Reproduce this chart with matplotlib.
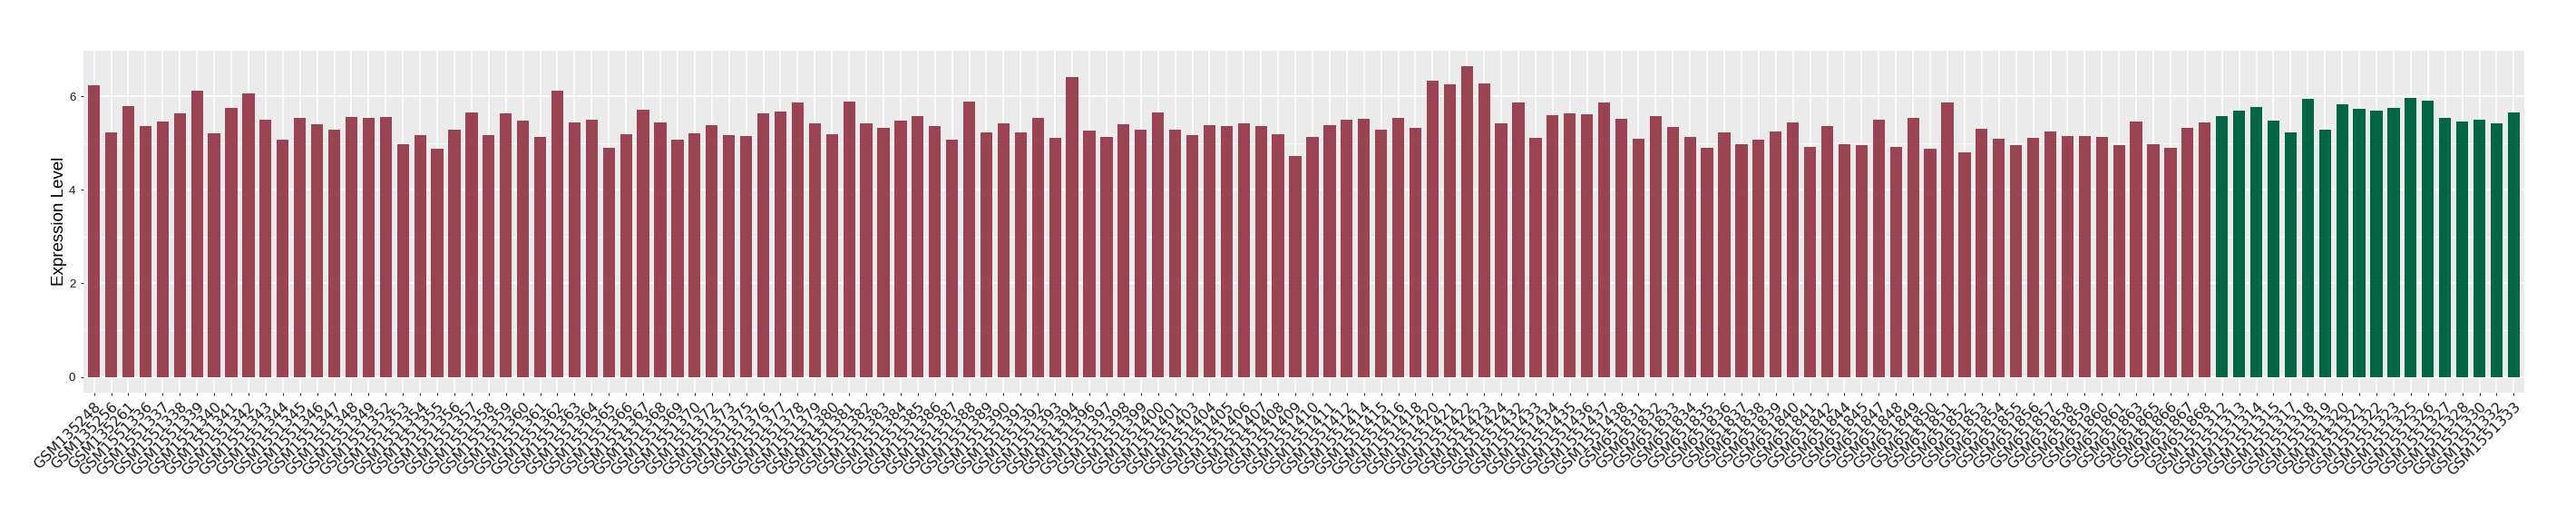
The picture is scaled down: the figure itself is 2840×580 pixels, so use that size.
import matplotlib
matplotlib.use('Agg')
import matplotlib.pyplot as plt
import numpy as np

samples = [
    "GSM135248", "GSM135256", "GSM135261", "GSM1551336", "GSM1551337", "GSM1551338",
    "GSM1551339", "GSM1551340", "GSM1551341", "GSM1551342", "GSM1551343", "GSM1551344",
    "GSM1551345", "GSM1551346", "GSM1551347", "GSM1551348", "GSM1551349", "GSM1551352",
    "GSM1551353", "GSM1551354", "GSM1551355", "GSM1551356", "GSM1551357", "GSM1551358",
    "GSM1551359", "GSM1551360", "GSM1551361", "GSM1551362", "GSM1551363", "GSM1551364",
    "GSM1551365", "GSM1551366", "GSM1551367", "GSM1551368", "GSM1551369", "GSM1551370",
    "GSM1551372", "GSM1551373", "GSM1551375", "GSM1551376", "GSM1551377", "GSM1551378",
    "GSM1551379", "GSM1551380", "GSM1551381", "GSM1551382", "GSM1551383", "GSM1551384",
    "GSM1551385", "GSM1551386", "GSM1551387", "GSM1551388", "GSM1551389", "GSM1551390",
    "GSM1551391", "GSM1551392", "GSM1551393", "GSM1551394", "GSM1551396", "GSM1551397",
    "GSM1551398", "GSM1551399", "GSM1551400", "GSM1551401", "GSM1551403", "GSM1551404",
    "GSM1551405", "GSM1551406", "GSM1551407", "GSM1551408", "GSM1551409", "GSM1551410",
    "GSM1551411", "GSM1551412", "GSM1551414", "GSM1551415", "GSM1551416", "GSM1551418",
    "GSM1551420", "GSM1551421", "GSM1551422", "GSM1551423", "GSM1551424", "GSM1551432",
    "GSM1551433", "GSM1551434", "GSM1551435", "GSM1551436", "GSM1551437", "GSM1551438",
    "GSM651831", "GSM651832", "GSM651833", "GSM651834", "GSM651835", "GSM651836",
    "GSM651837", "GSM651838", "GSM651839", "GSM651840", "GSM651841", "GSM651842",
    "GSM651844", "GSM651845", "GSM651847", "GSM651848", "GSM651849", "GSM651850",
    "GSM651851", "GSM651852", "GSM651853", "GSM651854", "GSM651855", "GSM651856",
    "GSM651857", "GSM651858", "GSM651859", "GSM651860", "GSM651861", "GSM651863",
    "GSM651865", "GSM651866", "GSM651867", "GSM651868",
    "GSM1551312", "GSM1551313", "GSM1551314", "GSM1551315", "GSM1551317", "GSM1551318",
    "GSM1551319", "GSM1551320", "GSM1551321", "GSM1551322", "GSM1551323", "GSM1551325",
    "GSM1551326", "GSM1551327", "GSM1551328", "GSM1551330", "GSM1551332", "GSM1551333",
]

expression = [
    6.23, 5.22, 5.79, 5.36, 5.46, 5.63, 6.12, 5.20, 5.75, 6.06, 5.50, 5.07,
    5.54, 5.40, 5.28, 5.56, 5.54, 5.56, 4.98, 5.17, 4.88, 5.28, 5.65, 5.17,
    5.63, 5.48, 5.13, 6.12, 5.44, 5.50, 4.90, 5.18, 5.71, 5.44, 5.07, 5.20,
    5.38, 5.17, 5.15, 5.63, 5.67, 5.87, 5.42, 5.18, 5.89, 5.42, 5.32, 5.48,
    5.58, 5.36, 5.07, 5.89, 5.22, 5.42, 5.22, 5.54, 5.11, 6.41, 5.26, 5.13,
    5.40, 5.28, 5.65, 5.28, 5.17, 5.38, 5.36, 5.42, 5.36, 5.18, 4.72, 5.13,
    5.38, 5.50, 5.52, 5.28, 5.54, 5.32, 6.33, 6.25, 6.64, 6.27, 5.42, 5.87,
    5.11, 5.59, 5.63, 5.61, 5.87, 5.52, 5.09, 5.58, 5.34, 5.13, 4.90, 5.22,
    4.98, 5.07, 5.24, 5.44, 4.92, 5.36, 4.98, 4.96, 5.50, 4.92, 5.54, 4.88,
    5.87, 4.80, 5.30, 5.09, 4.96, 5.11, 5.24, 5.15, 5.15, 5.13, 4.96, 5.46,
    4.98, 4.90, 5.32, 5.44,
    5.58, 5.69, 5.77, 5.48, 5.22, 5.95, 5.28, 5.83, 5.73, 5.69, 5.75, 5.97,
    5.91, 5.54, 5.46, 5.50, 5.42, 5.65,
]

groups = ["A"] * 124 + ["B"] * 18
palette = {"A": "#9B4352", "B": "#006644"}

fig = plt.figure(figsize=(28.4, 5.8), dpi=100)
ax = fig.add_axes([92.3 / 2840, 1 - 432.7 / 580, (2782.7 - 92.3) / 2840, (432.7 - 56) / 580])
ax.set_facecolor("#EBEBEB")

x = np.arange(len(samples))
ax.bar(x, expression, width=0.7, color=[palette[g] for g in groups], zorder=3)

ax.set_xlim(-0.6, len(samples) - 1 + 0.6)
ymax = max(expression)
ax.set_ylim(-0.05 * ymax, ymax * 1.05)

ax.set_yticks([0, 2, 4, 6])
ax.set_yticks([1, 3, 5], minor=True)
ax.set_xticks(x)
ax.set_xticklabels(samples, rotation=45, ha="right", va="top", rotation_mode="anchor",
                   fontsize=11.5, family="DejaVu Sans", color="#1A1A1A")
ax.grid(which="major", color="white", lw=1.1, zorder=0)
ax.grid(which="minor", axis="y", color="white", lw=0.55, zorder=0)
ax.set_axisbelow(True)
for s in ax.spines.values():
    s.set_visible(False)

ax.tick_params(axis="x", length=2.5, color="#333333", width=0.8, pad=3)
ax.tick_params(axis="y", which="major", length=2.5, color="#333333", width=0.8, pad=4,
               labelsize=9.5, labelcolor="#1A1A1A")
ax.tick_params(axis="y", which="minor", length=0)
for lbl in ax.get_yticklabels():
    lbl.set_family("Liberation Sans")

ax.set_ylabel("Expression Level", fontsize=13.5, family="Liberation Sans", color="black")
ax.yaxis.label.set_va("center")
ax.yaxis.set_label_coords((65 - 92.3) / (2782.7 - 92.3), 0.5)

fig.savefig("out.png", dpi=100)
